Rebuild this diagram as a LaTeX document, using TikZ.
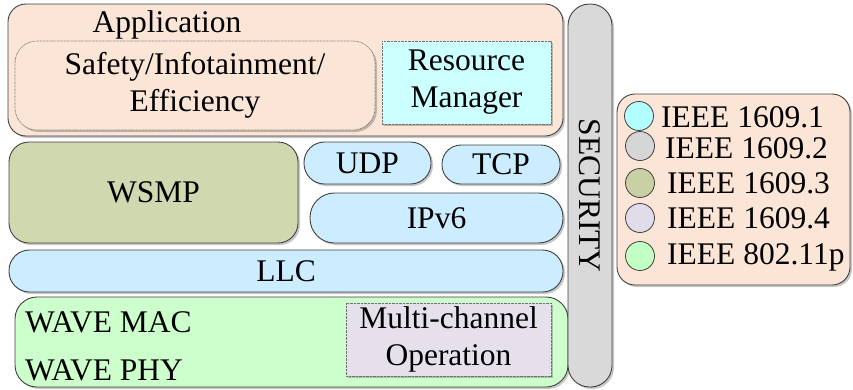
\documentclass[tikz,border=0pt]{standalone}
\usepackage{fontspec}
\setmainfont{Liberation Serif}
\usetikzlibrary{shadows}

\definecolor{edge}{HTML}{404040}
\definecolor{dotedge}{HTML}{707070}
\definecolor{peach}{HTML}{FBE5D6}
\definecolor{rmcyan}{HTML}{CCFFFF}
\definecolor{wsmpolive}{HTML}{D0D8B0}
\definecolor{pillblue}{HTML}{CCECFF}
\definecolor{secgray}{HTML}{D9D9D9}
\definecolor{wavegreen}{HTML}{CCFFCC}
\definecolor{lavender}{HTML}{E6E0EC}
\definecolor{dotcyan}{HTML}{B3FFFF}
\definecolor{dotgray}{HTML}{D6D6D6}
\definecolor{dotolive}{HTML}{C8D0A4}
\definecolor{dotlav}{HTML}{E0DCEA}
\definecolor{dotgreen}{HTML}{C2FFC2}

\tikzset{
  every node/.style={font=\fontsize{31.5}{37}\selectfont, inner sep=0pt},
  boxshadow/.style={drop shadow={shadow xshift=2pt, shadow yshift=-2pt, fill=black, opacity=0.22}},
  stackbox/.style={draw=edge, line width=0.9pt, rounded corners=#1, boxshadow},
  stackbox/.default=18pt,
  dotbox/.style={draw=dotedge, line width=0.7pt, dash pattern=on 0.7pt off 0.7pt, boxshadow},
  legdot/.style={circle, draw=edge, line width=0.8pt, minimum size=29pt},
}

\begin{document}
\begin{tikzpicture}[x=1pt,y=-1pt]
\useasboundingbox (0,0) rectangle (853,389);

% application layer
\node[stackbox=18pt, fill=peach, minimum width=555pt, minimum height=132pt] (app) at (285.5,70) {};
\node[anchor=base] (apptxt) at (167,32) {Application};
\node[dotbox, rounded corners=22pt, fill=peach, minimum width=360pt, minimum height=89pt, align=center] (safety) at (195,85.5) {Safety/Infotainment/\\Efficiency};
\node[dotbox, fill=rmcyan, minimum width=169pt, minimum height=83pt, align=center] (resmgr) at (466.5,82.5) {Resource\\Manager};

% network and transport
\node[stackbox=20pt, fill=wsmpolive, minimum width=289pt, minimum height=101pt] (wsmp) at (153.5,192.5) {WSMP};
\node[stackbox=20.5pt, fill=pillblue, minimum width=127pt, minimum height=42pt] (udp) at (367.5,163) {UDP};
\node[stackbox=19pt, fill=pillblue, minimum width=118pt, minimum height=39pt] (tcp) at (501,164.5) {TCP};
\node[stackbox=24.5pt, fill=pillblue, minimum width=253pt, minimum height=50pt] (ipv6) at (436.5,218) {IPv6};

% link layer
\node[stackbox=20.5pt, fill=pillblue, minimum width=554pt, minimum height=42pt] (llc) at (286,271) {LLC};

% MAC / PHY
\node[stackbox=22pt, fill=wavegreen, minimum width=553pt, minimum height=90pt] (wave) at (291.5,342) {};
\node[anchor=base west] (mac) at (25,332) {WAVE MAC};
\node[anchor=base west] (phy) at (25,380) {WAVE PHY};
\node[dotbox, fill=lavender, minimum width=205pt, minimum height=73pt, align=center] (mch) at (448.5,339.5) {Multi-channel\\Operation};

% security plane
\node[stackbox=21.5pt, fill=secgray, minimum width=383pt, minimum height=44pt, rotate=-90] (sec) at (590,195.5) {SECURITY};

% legend
\node[stackbox=18pt, fill=peach, minimum width=233pt, minimum height=191pt] (legend) at (733.5,189.5) {};
\node[legdot, fill=dotcyan]  (d1) at (639,116) {};
\node[legdot, fill=dotgray]  (d2) at (640,146) {};
\node[legdot, fill=dotolive] (d3) at (640,183) {};
\node[legdot, fill=dotlav]   (d4) at (640,218) {};
\node[legdot, fill=dotgreen] (d5) at (640,256) {};
\node[anchor=base west] (t1) at (661,127) {IEEE 1609.1};
\node[anchor=base west] (t2) at (665,158) {IEEE 1609.2};
\node[anchor=base west] (t3) at (667,193) {IEEE 1609.3};
\node[anchor=base west] (t4) at (667,228) {IEEE 1609.4};
\node[anchor=base west] (t5) at (667,264) {IEEE 802.11p};
\end{tikzpicture}
\end{document}
